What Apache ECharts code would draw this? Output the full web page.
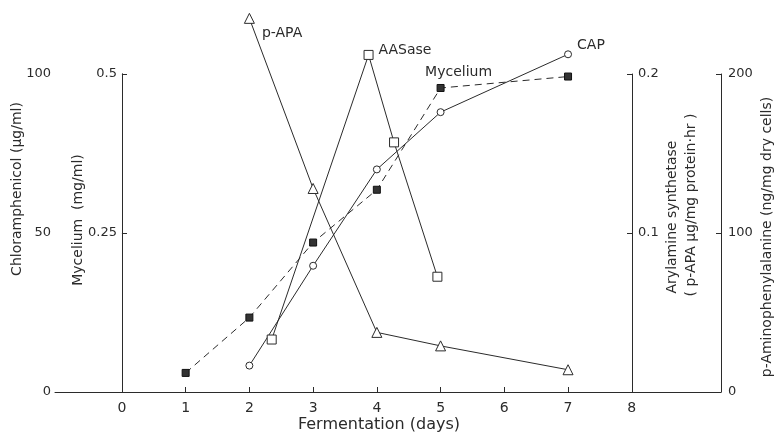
<!DOCTYPE html>
<html>
<head>
<meta charset="utf-8">
<script src="https://cdn.jsdelivr.net/npm/echarts@6/dist/echarts.min.js"></script>
<style>html,body{margin:0;padding:0;background:#fff}#c{width:780px;height:436px}</style>
</head>
<body>
<div id="c"></div>
<script>
// ---- data ----
const xTickValues = [0, 1, 2, 3, 4, 5, 6, 7, 8];

const capDays = [2, 3, 4, 5, 7];
const capValues = [8.3, 39.7, 70.0, 88.0, 106.2];           // Chloramphenicol, µg/ml

const myceliumDays = [1, 2, 3, 4, 5, 7];
const myceliumValues = [0.030, 0.117, 0.235, 0.318, 0.478, 0.496]; // mg/ml

const aasDays = [2.35, 3.87, 4.27, 4.95];
const aasValues = [0.033, 0.212, 0.157, 0.0725];             // Arylamine synthetase

const papaDays = [2, 3, 4, 5, 7];
const papaValues = [235, 128, 37.5, 29, 14];                 // p-Aminophenylalanine

const seriesLabels = { papa: 'p-APA', aas: 'AASase', mycelium: 'Mycelium', cap: 'CAP' };

const axisNames = {
  x: 'Fermentation (days)',
  cap: 'Chloramphenicol (\u03bcg/ml)',
  mycelium: 'Mycelium  (mg/ml)',
  aas1: 'Arylamine synthetase',
  aas2: '( p-APA \u03bcg/mg protein\u00b7hr )',
  papa: 'p-Aminophenylalanine (ng/mg dry cells)'
};

// ---- chart ----
const INK = '#2b2b2b';
const FONT = 'DejaVu Sans';

function pairs(xs, ys, labelIdx, labelText, labelOpts) {
  return xs.map((x, i) => {
    const item = { value: [x, ys[i]] };
    if (i === labelIdx) {
      item.label = Object.assign({ show: true, formatter: labelText, color: INK,
        fontFamily: FONT, fontSize: 14 }, labelOpts);
    }
    return item;
  });
}

const lineBase = { type: 'line', clip: false, silent: true, z: 5 };

const yBase = {
  type: 'value', splitLine: { show: false },
  axisLine: { show: true, lineStyle: { color: INK, width: 1 } },
  axisTick: { show: true, inside: true, length: 5, lineStyle: { color: INK } },
  axisLabel: { color: INK, fontFamily: FONT, fontSize: 13 }
};

const chart = echarts.init(document.getElementById('c'), null, { renderer: 'canvas' });
chart.setOption({
  backgroundColor: '#fff',
  animation: false,
  grid: { left: 55, right: 59, top: 74, bottom: 44, containLabel: false },
  xAxis: {
    type: 'value', min: -1.05, max: 9.4,
    splitLine: { show: false },
    axisLine: { show: true, onZero: false, lineStyle: { color: INK, width: 1 } },
    axisTick: { show: true, inside: true, length: 5, customValues: xTickValues, lineStyle: { color: INK } },
    axisLabel: { customValues: xTickValues, color: INK, fontFamily: FONT, fontSize: 14, margin: 9 }
  },
  yAxis: [
    Object.assign({}, yBase, { position: 'left', offset: 0, min: 0, max: 100, interval: 50,
      axisLabel: Object.assign({}, yBase.axisLabel, { margin: 4 }) }),
    Object.assign({}, yBase, { position: 'left', offset: -67, min: 0, max: 0.5, interval: 0.25,
      axisLabel: Object.assign({}, yBase.axisLabel, { margin: 5, formatter: v => v === 0 ? '' : String(v) }) }),
    Object.assign({}, yBase, { position: 'right', offset: 0, min: 0, max: 200, interval: 100,
      axisLabel: Object.assign({}, yBase.axisLabel, { margin: 7 }) }),
    Object.assign({}, yBase, { position: 'right', offset: -89, min: 0, max: 0.2, interval: 0.1,
      axisLabel: Object.assign({}, yBase.axisLabel, { margin: 6, formatter: v => v === 0 ? '' : String(v) }) })
  ],
  series: [
    Object.assign({}, lineBase, {
      name: 'CAP', yAxisIndex: 0,
      data: pairs(capDays, capValues, capDays.length - 1, seriesLabels.cap, { position: 'right', offset: [0, -9] }),
      symbol: 'circle', symbolSize: 7,
      lineStyle: { color: INK, width: 1 },
      itemStyle: { color: '#fff', borderColor: INK, borderWidth: 1 }
    }),
    Object.assign({}, lineBase, {
      name: 'Mycelium', yAxisIndex: 1,
      data: pairs(myceliumDays, myceliumValues, 4, seriesLabels.mycelium, { position: 'top', offset: [18, 0] }),
      symbol: 'rect', symbolSize: 7,
      lineStyle: { color: INK, width: 1, type: [7, 5] },
      itemStyle: { color: '#333', borderColor: '#111', borderWidth: 1 }
    }),
    Object.assign({}, lineBase, {
      name: 'AASase', yAxisIndex: 3,
      data: pairs(aasDays, aasValues, 1, seriesLabels.aas, { position: 'right', offset: [0, -5] }),
      symbol: 'rect', symbolSize: 9,
      lineStyle: { color: INK, width: 1 },
      itemStyle: { color: '#fff', borderColor: INK, borderWidth: 1 }
    }),
    Object.assign({}, lineBase, {
      name: 'p-APA', yAxisIndex: 2,
      data: pairs(papaDays, papaValues, 0, seriesLabels.papa, { position: 'right', offset: [2, 15] }),
      symbol: 'triangle', symbolSize: 10,
      lineStyle: { color: INK, width: 1 },
      itemStyle: { color: '#fff', borderColor: INK, borderWidth: 1 }
    })
  ],
  graphic: [
    { type: 'text', x: 379, y: 425, style: { text: axisNames.x, fill: INK, font: '16px ' + FONT, align: 'center', verticalAlign: 'middle' } },
    { type: 'text', x: 17, y: 189, rotation: Math.PI / 2, style: { text: axisNames.cap, fill: INK, font: '14px ' + FONT, align: 'center', verticalAlign: 'middle' } },
    { type: 'text', x: 78, y: 220, rotation: Math.PI / 2, style: { text: axisNames.mycelium, fill: INK, font: '14px ' + FONT, align: 'center', verticalAlign: 'middle' } },
    { type: 'text', x: 672, y: 217, rotation: Math.PI / 2, style: { text: axisNames.aas1, fill: INK, font: '14px ' + FONT, align: 'center', verticalAlign: 'middle' } },
    { type: 'text', x: 691, y: 205, rotation: Math.PI / 2, style: { text: axisNames.aas2, fill: INK, font: '14px ' + FONT, align: 'center', verticalAlign: 'middle' } },
    { type: 'text', x: 767, y: 237, rotation: Math.PI / 2, style: { text: axisNames.papa, fill: INK, font: '14px ' + FONT, align: 'center', verticalAlign: 'middle' } }
  ]
});
</script>
</body>
</html>
